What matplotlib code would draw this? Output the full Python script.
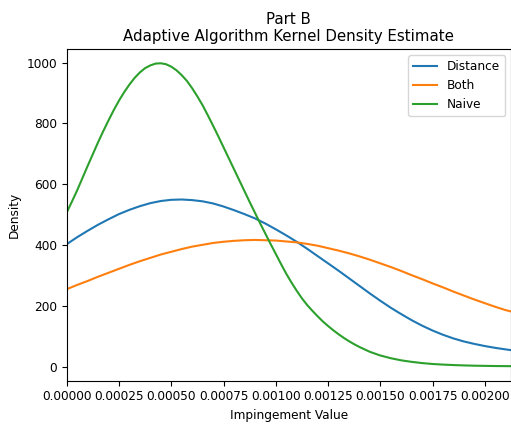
import matplotlib
matplotlib.use("Agg")
import matplotlib.pyplot as plt
import numpy as np

# Impingement values at which the Distance and Both estimates are evaluated
impingement = np.array([
    0.0, 0.00005, 0.0001, 0.00015, 0.0002, 0.00025, 0.0003, 0.00035, 0.0004,
    0.00045, 0.0005, 0.00055, 0.0006, 0.00065, 0.0007, 0.00075, 0.0008,
    0.00085, 0.0009, 0.00095, 0.001, 0.00105, 0.0011, 0.00115, 0.0012,
    0.00125, 0.0013, 0.00135, 0.0014, 0.00145, 0.0015, 0.00155, 0.0016,
    0.00165, 0.0017, 0.00175, 0.0018, 0.00185, 0.0019, 0.00195, 0.002,
    0.00205, 0.0021, 0.00213,
])

density_distance = [
    403, 426, 447, 467, 485, 502, 516, 528, 538, 545, 549, 550, 548, 544,
    537, 527, 515, 502, 488, 471, 452, 432, 411, 388, 364, 340, 316, 291,
    266, 241, 217, 194, 173, 153, 135, 119, 105, 93, 83, 75, 68, 62, 57, 54,
]

density_both = [
    255, 269, 282, 296, 309, 322, 335, 347, 358, 369, 378, 387, 395, 401,
    407, 411, 414, 416, 417, 416, 415, 412, 409, 404, 398, 390, 382, 373,
    363, 352, 340, 328, 315, 301, 288, 274, 261, 247, 234, 221, 209, 197,
    186, 181,
]

# The Naive estimate is sharply peaked, so it is evaluated on a finer grid
naive_impingement = np.array([
    0.0, 0.000025, 0.00005, 0.000075, 0.0001, 0.000125, 0.00015, 0.000175,
    0.0002, 0.000225, 0.00025, 0.000275, 0.0003, 0.000325, 0.00035, 0.000375,
    0.0004, 0.000425, 0.00045, 0.000475, 0.0005, 0.000525, 0.00055, 0.000575,
    0.0006, 0.000625, 0.00065, 0.000675, 0.0007, 0.000725, 0.00075, 0.000775,
    0.0008, 0.000825, 0.00085, 0.000875, 0.0009, 0.000925, 0.00095, 0.000975,
    0.001, 0.001025, 0.00105, 0.001075, 0.0011, 0.001125, 0.00115, 0.001175,
    0.0012, 0.001225, 0.00125, 0.001275, 0.0013, 0.001325, 0.00135, 0.001375,
    0.0014, 0.00145, 0.0015, 0.00155, 0.0016, 0.00165, 0.0017, 0.00175,
    0.0018, 0.00185, 0.0019, 0.00195, 0.002, 0.00205, 0.0021, 0.00213,
])

density_naive = [
    507, 543, 580, 620, 660, 699, 738, 775, 810, 844, 875, 903, 928, 950,
    968, 982, 991, 997, 998, 995, 987, 975, 959, 940, 916, 889, 860, 827,
    793, 758, 722, 686, 650, 614, 578, 542, 507, 472, 438, 404, 371, 338,
    306, 277, 250, 225, 203, 184, 166, 149, 134, 120, 107, 95, 84, 74,
    65, 49, 37, 28, 21, 16, 12, 9, 7, 5.5, 4.3, 3.4, 2.8, 2.3, 2.0, 1.8,
]

series_labels = ["Distance", "Both", "Naive"]

fs = 8.7
plt.rcParams["font.family"] = ["DejaVu Sans"]

fig = plt.figure(figsize=(5.11, 4.25), dpi=100)
ax = fig.add_axes([0.1305, 0.1042, 0.8695, 0.7798])

ax.plot(impingement, density_distance, label=series_labels[0], linewidth=1.5)
ax.plot(impingement, density_both, label=series_labels[1], linewidth=1.5)
ax.plot(naive_impingement, density_naive, label=series_labels[2], linewidth=1.5)

ax.set_xlim(0, 0.002125)
ax.set_ylim(-46, 1044)
ax.set_xticks([0, 0.00025, 0.0005, 0.00075, 0.001, 0.00125, 0.0015, 0.00175, 0.002])
ax.set_xticklabels(["0.00000", "0.00025", "0.00050", "0.00075", "0.00100",
                    "0.00125", "0.00150", "0.00175", "0.00200"])
ax.set_yticks([0, 200, 400, 600, 800, 1000])
ax.tick_params(labelsize=fs)

ax.set_xlabel("Impingement Value", fontsize=fs)
ax.set_ylabel("Density", fontsize=fs)
ax.set_title("Part B\nAdaptive Algorithm Kernel Density Estimate", fontsize=10.8)
ax.legend(loc="upper right", fontsize=fs)

fig.savefig("out.png", dpi=100)
